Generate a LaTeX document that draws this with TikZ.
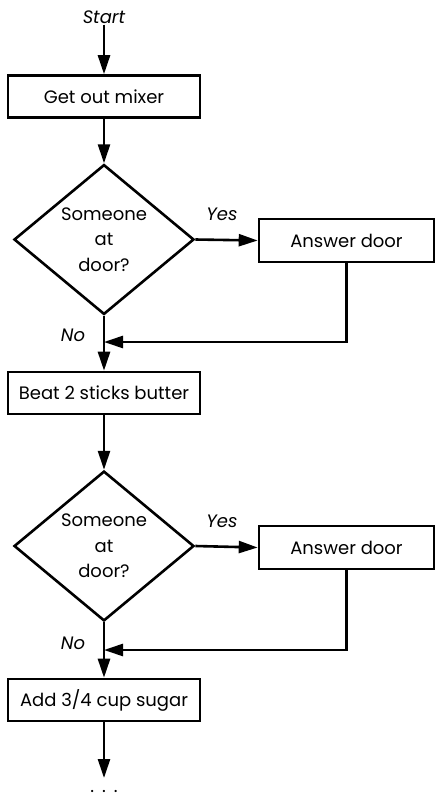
\documentclass[tikz,border=0pt]{standalone}
\usepackage{fontspec}
\setmainfont{Poppins}
\usetikzlibrary{shapes.geometric,arrows.meta,calc}
\begin{document}
\begin{tikzpicture}[x=1pt,y=-1pt,
  txt/.style={font=\fontsize{18}{21}\selectfont, inner sep=0pt},
  lbl/.style={font=\fontsize{18}{21}\selectfont\itshape, inner sep=1pt},
  procbox/.style={draw, line width=2.6pt, minimum width=192pt, minimum height=42pt, inner sep=0pt, font=\fontsize{18}{21}\selectfont},
  ansbox/.style={draw, line width=2.6pt, minimum width=175pt, minimum height=43pt, inner sep=0pt, font=\fontsize{18}{21}\selectfont},
  decision/.style={draw, diamond, line width=2.6pt, minimum width=180pt, minimum height=144pt, inner sep=0pt, align=center, font=\fontsize{18}{25.5}\selectfont},
  flow/.style={line width=2.6pt, -{Triangle[length=19pt,width=12pt]}},
  plain/.style={line width=2.6pt}
]
\useasboundingbox (0,0) rectangle (438,798);

\node[lbl] (start) at (104,17) {Start};
\node[procbox] (box1) at (104,96.5) {Get out mixer};
\node[decision] (d1) at (104,239.5) {Someone\\at\\door?};
\node[ansbox] (ans1) at (346.5,240.5) {Answer door};
\coordinate (m1) at (104,342);
\node[procbox] (box2) at (104,393) {Beat 2 sticks butter};
\node[decision] (d2) at (104,546) {Someone\\at\\door?};
\node[ansbox] (ans2) at (346.5,547.5) {Answer door};
\coordinate (m2) at (104,650);
\node[procbox] (box3) at (104,700) {Add 3/4 cup sugar};
\coordinate (end) at (104,778);
\node[txt, anchor=base] (dots) at (104,792) {.\hspace{8pt}.\hspace{8pt}.};

\node[lbl] (yes1) at (222,214) {Yes};
\node[lbl] (no1) at (73,335) {No};
\node[lbl] (yes2) at (222,521) {Yes};
\node[lbl] (no2) at (73,643) {No};

\draw[flow] (start) -- (box1);
\draw[flow] (box1) -- (d1);
\draw[flow] (d1.east) -- (ans1.west);
\draw[plain] (d1.south) -- (m1);
\draw[flow] (ans1.south) |- (m1);
\draw[flow] (m1) -- (box2.north);
\draw[flow] (box2) -- (d2);
\draw[flow] (d2.east) -- (ans2.west);
\draw[plain] (d2.south) -- (m2);
\draw[flow] (ans2.south) |- (m2);
\draw[flow] (m2) -- (box3.north);
\draw[flow] (box3) -- (end);
\end{tikzpicture}
\end{document}
